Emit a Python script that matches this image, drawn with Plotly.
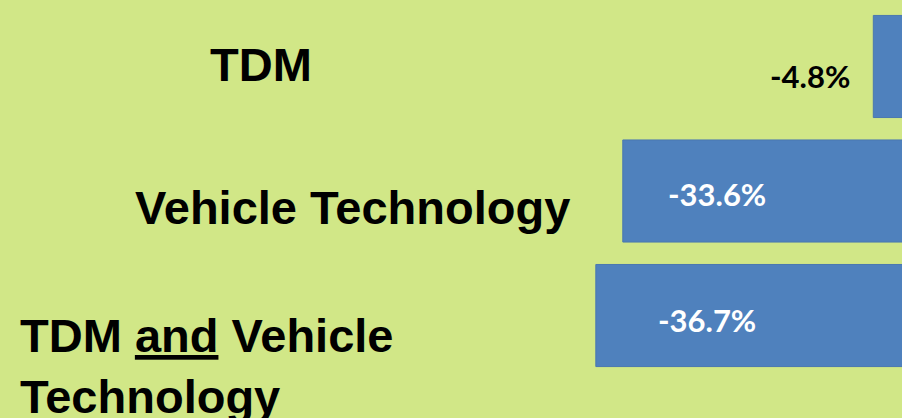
import plotly.graph_objects as go

# data
categories = ["TDM", "Vehicle Technology", "TDM and Vehicle Technology"]
cat_labels = ["<b>TDM</b>", "<b>Vehicle Technology</b>",
              "<b>TDM <u>and</u> Vehicle<br>Technology</b>"]
values = [-4.8, -33.6, -36.7]
value_text = ["-4.8%", "-33.6%", "-36.7%"]

bg = "#d1e787"
bar_color = "#4f81bd"

fig = go.Figure(go.Bar(
    x=values, y=categories, orientation="h",
    marker=dict(color=bar_color, line=dict(color="#4a78b0", width=1)),
    hoverinfo="skip",
))

# category labels (placed like the slide, not as ticks)
label_pos = [  # x (paper), xanchor, align, yshift
    (261 / 902, "center", "center", 2),
    (572 / 902, "right", "right", -16),
    (18 / 902, "left", "left", -50),
]
for cat, txt, (px, anc, al, ys) in zip(categories, cat_labels, label_pos):
    fig.add_annotation(x=px, xref="paper", y=cat, yref="y", text=txt,
                       xanchor=anc, align=al, yshift=ys, showarrow=False,
                       font=dict(family="Liberation Sans, Arial", size=47, color="black"))

# value labels
val_pos = [  # xanchor, xshift, yshift, colour
    ("right", -21, -10, "black"),
    ("left", 43, -3, "white"),
    ("left", 60, -4, "white"),
]
for cat, v, t, (anc, xs, ys, col) in zip(categories, values, value_text, val_pos):
    fig.add_annotation(x=v, y=cat, text="<b>" + t + "</b>", xanchor=anc,
                       xshift=xs, yshift=ys, showarrow=False,
                       font=dict(family="Lato", size=31, color=col))

fig.update_layout(
    width=902, height=418,
    margin=dict(l=0, r=0, t=0, b=0),
    paper_bgcolor=bg, plot_bgcolor=bg,
    bargap=0.18, showlegend=False,
    xaxis=dict(range=[-105.2, -1.5], visible=False, fixedrange=True),
    yaxis=dict(range=[2.823, -0.534], visible=False, fixedrange=True,
               categoryorder="array", categoryarray=categories),
)

fig.write_html("out.html", config={"displayModeBar": False},
               post_script="document.body.style.margin='0';")
